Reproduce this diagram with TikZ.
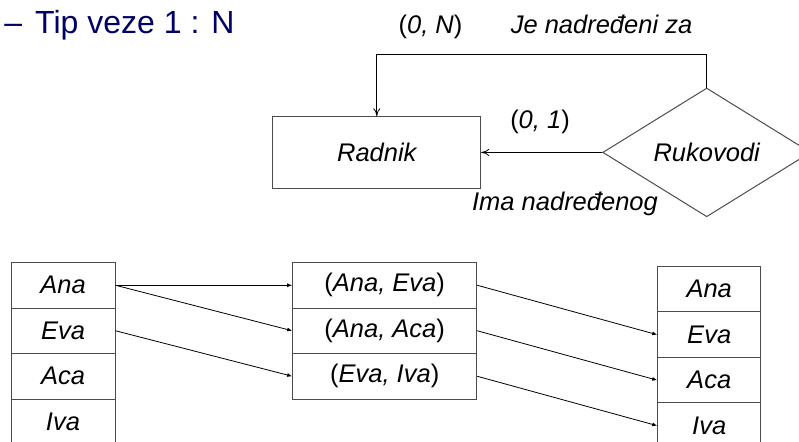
\documentclass[tikz,border=0pt]{standalone}
\usepackage{fontspec}
\setmainfont{Liberation Sans}
\usetikzlibrary{shapes.geometric,arrows.meta}
\definecolor{naslovboja}{RGB}{0,0,102}
\begin{document}
\begin{tikzpicture}[x=1pt, y=-1pt, line width=0.9pt,
  tekst/.style={font=\fontsize{25.5}{30}\selectfont, inner sep=0pt},
  ime/.style={font=\itshape\fontsize{25.5}{30}\selectfont, inner sep=0pt},
  okvir/.style={draw=black!70, line width=1pt},
  celija/.style={okvir, inner sep=0pt, minimum height=45.5pt},
  lijevi/.style={celija, ime, minimum width=104pt},
  srednji/.style={celija, tekst, minimum width=184pt},
  desni/.style={celija, ime, minimum width=103pt},
  veza/.style={-{Latex[length=5pt,width=4pt]}, line width=0.8pt},
  uloga/.style={-{To[length=8pt,width=7pt]}, line width=0.8pt}]
\useasboundingbox (0,0) rectangle (799,441);
\clip (0,0) rectangle (799,441);
\node[anchor=base west, text=naslovboja, font=\fontsize{32}{38}\selectfont, inner sep=0pt] (naslov) at (4,33.3) {–\hspace{13pt}Tip veze 1 : N};
\node[okvir, ime, minimum width=207.7pt, minimum height=71.3pt] (radnik) at (376.8,152.4) {Radnik};
\node[okvir, diamond, ime, minimum width=208pt, minimum height=128.7pt] (rukovodi) at (706.7,152.4) {Rukovodi};
\coordinate (gore) at (376.8,54.3);
\draw[uloga](rukovodi.north) |- (gore) -- (radnik.north);
\draw[uloga](rukovodi.west) -- (radnik.east);
\node[tekst, anchor=base] (kard0n) at (430.5,33.5) {(\textit{0, N})};
\node[ime, anchor=base] (nadredjeni) at (601.5,33.5) {Je nadređeni za};
\node[tekst, anchor=base] (kard01) at (540,128.3) {(\textit{0, 1})};
\node[ime, anchor=base] (imanad) at (565,210.5) {Ima nadređenog};
\node[lijevi] (lana) at (63,285.25) {Ana};
\node[lijevi] (leva) at (63,330.75) {Eva};
\node[lijevi] (laca) at (63,376.25) {Aca};
\node[lijevi] (liva) at (63,421.75) {Iva};
\node[srednji] (par1) at (384.7,285.25) {(\textit{Ana, Eva})};
\node[srednji] (par2) at (384.7,330.75) {(\textit{Ana, Aca})};
\node[srednji] (par3) at (384.7,376.25) {(\textit{Eva, Iva})};
\node[desni] (dana) at (709.2,289.2) {Ana};
\node[desni] (deva) at (709.2,334.7) {Eva};
\node[desni] (daca) at (709.2,380.2) {Aca};
\node[desni] (diva) at (709.2,425.7) {Iva};
\draw[veza](lana.east) -- (par1.west);
\draw[veza](lana.east) -- (par2.west);
\draw[veza](leva.east) -- (par3.west);
\draw[veza](par1.east) -- (deva.west);
\draw[veza](par2.east) -- (daca.west);
\draw[veza](par3.east) -- (diva.west);
\end{tikzpicture}
\end{document}
